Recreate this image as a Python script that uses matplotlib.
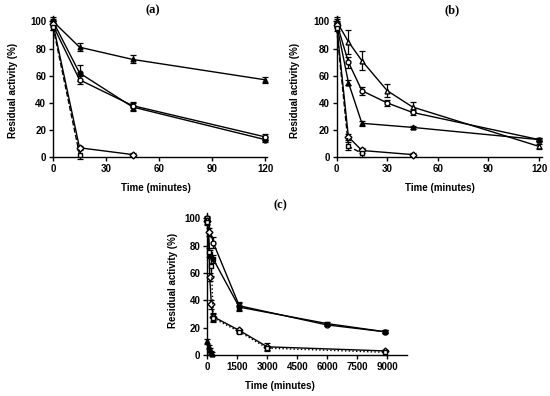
import matplotlib
matplotlib.use("Agg")
import matplotlib.pyplot as plt

plt.rcParams["font.family"] = ["Liberation Sans", "DejaVu Sans"]
plt.rcParams["font.weight"] = "bold"

# ---------------- panel (a) ----------------
a_t4 = [0, 15, 45, 120]
a_tri = [100, 81, 72, 57]
a_tri_err = [2, 3, 3, 2]
a_circ = [100, 62, 37, 13]
a_circ_err = [3, 6, 3, 2]
a_open = [97, 57, 38, 15]
a_open_err = [3, 3, 3, 2]
a_t3 = [0, 15, 45]
a_dia = [98, 7, 2]
a_dia_err = [2, 1, 1]
a_t2 = [0, 15]
a_sq = [96, 2]
a_sq_err = [2, 3]

# ---------------- panel (b) ----------------
b_t6 = [0, 7, 15, 30, 45, 120]
b_otri = [100, 85, 71, 49, 37, 8]
b_otri_err = [3, 9, 7, 5, 4, 2]
b_ocirc = [99, 70, 49, 40, 33, 13]
b_ocirc_err = [3, 4, 3, 2, 2, 1]
b_t5 = [0, 7, 15, 45, 120]
b_ftri = [98, 55, 25, 22, 13]
b_ftri_err = [2, 2, 2, 1, 1]
b_t4 = [0, 7, 15, 45]
b_dia = [97, 15, 5, 2]
b_dia_err = [2, 2, 2, 1]
b_t3 = [0, 7, 15]
b_sq = [95, 8, 3]
b_sq_err = [2, 3, 3]

# ---------------- panel (c) ----------------
c_t_up = [0, 300, 1600, 6000, 8900]
c_ocirc = [100, 82, 36, 22, 17]
c_ocirc_err = [2, 4, 3, 1, 1]
c_t_up2 = [0, 120, 300, 1600, 6000, 8900]
c_fill = [99, 74, 70, 35, 23, 17]
c_fill_err = [2, 3, 3, 3, 1, 1]
c_t_dia = [0, 60, 120, 200, 300, 1600, 3000, 8900]
c_dia = [98, 90, 57, 37, 28, 18, 6, 3]
c_dia_err = [2, 3, 3, 3, 3, 1, 3, 1]
c_t_sq = [0, 60, 200, 300, 1600, 3000, 8900]
c_sq = [97, 75, 65, 27, 17, 5, 2]
c_sq_err = [2, 3, 7, 3, 1, 1, 2]
c_t_low = [0, 60, 120, 180, 240]
c_low = [10, 6, 4, 2, 1]
c_low_err = [2, 1, 1, 1, 1]


def series(ax, t, y, e, marker, face="k", ls="-"):
    ax.errorbar(t, y, yerr=e, color="k", marker=marker, markersize=3.5,
                markerfacecolor=face, markeredgecolor="k", linewidth=1,
                linestyle=ls, elinewidth=0.9, capsize=2, capthick=0.9,
                clip_on=False, zorder=3)


def style(ax, xlim, xticks):
    ax.set_xlim(*xlim)
    ax.set_ylim(0, 104)
    ax.set_xticks(xticks)
    ax.set_yticks([0, 20, 40, 60, 80, 100])
    for s in ["top", "right"]:
        ax.spines[s].set_visible(False)
    for s in ["left", "bottom"]:
        ax.spines[s].set_linewidth(1)
    ax.tick_params(direction="out", length=3, width=1, labelsize=7, pad=2)
    for lab in ax.get_xticklabels() + ax.get_yticklabels():
        lab.set_fontweight("bold")


fig = plt.figure(figsize=(5.5, 3.96), dpi=100)

axa = fig.add_axes([0.0964, 0.6028, 0.389, 0.357])
series(axa, a_t4, a_tri, a_tri_err, "^")
series(axa, a_t4, a_circ, a_circ_err, "o")
series(axa, a_t4, a_open, a_open_err, "o", face="white")
series(axa, a_t3, a_dia, a_dia_err, "D", face="white")
series(axa, a_t2, a_sq, a_sq_err, "s", face="white", ls="--")
style(axa, (0, 121), [0, 30, 60, 90, 120])

axb = fig.add_axes([0.612, 0.6028, 0.373, 0.357])
series(axb, b_t6, b_otri, b_otri_err, "^", face="white")
series(axb, b_t6, b_ocirc, b_ocirc_err, "o", face="white")
series(axb, b_t5, b_ftri, b_ftri_err, "^")
series(axb, b_t4, b_dia, b_dia_err, "D", face="white")
series(axb, b_t3, b_sq, b_sq_err, "s", face="white", ls="--")
style(axb, (0, 121.6), [0, 30, 60, 90, 120])

axc = fig.add_axes([0.377, 0.1035, 0.363, 0.359])
series(axc, c_t_up, c_ocirc, c_ocirc_err, "o", face="white")
series(axc, c_t_up2, c_fill, c_fill_err, "s")
series(axc, c_t_dia, c_dia, c_dia_err, "D", face="white")
series(axc, c_t_sq, c_sq, c_sq_err, "s", face="white", ls=":")
series(axc, c_t_low, c_low, c_low_err, "^")
style(axc, (0, 10000), [0, 1500, 3000, 4500, 6000, 7500, 9000])

# panel titles
for x, y, s in [(153, 10, "(a)"), (452, 10, "(b)"), (280, 205, "(c)")]:
    fig.text(x / 550, 1 - y / 396, s, ha="center", va="center",
             family=["Liberation Serif", "DejaVu Serif"], fontweight="bold",
             fontsize=9)

# axis labels
for x, y in [(156, 188), (440, 188), (280, 386)]:
    fig.text(x / 550, 1 - y / 396, "Time (minutes)", ha="center",
             va="center", fontsize=7, fontweight="bold")
for x, y in [(13, 90), (295, 90), (173, 280)]:
    fig.text(x / 550, 1 - y / 396, "Residual activity (%)", ha="center",
             va="center", rotation=90, fontsize=7, fontweight="bold")

fig.savefig("out.png", dpi=100)
